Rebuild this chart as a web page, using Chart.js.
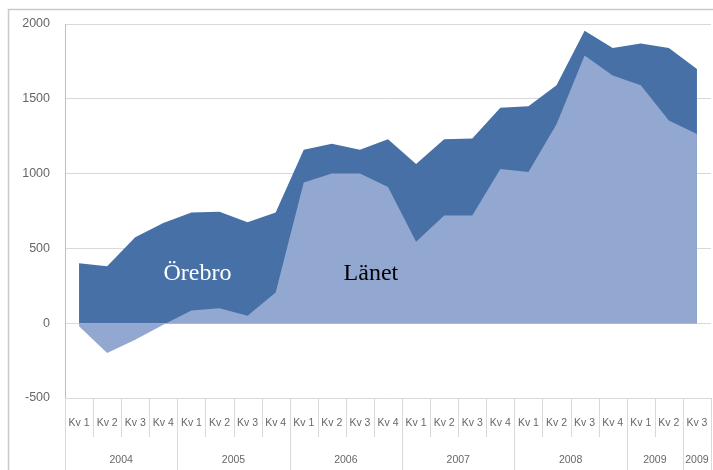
<!DOCTYPE html>
<html>
<head>
<meta charset="utf-8">
<script src="https://cdn.jsdelivr.net/npm/chart.js@4.4.1/dist/chart.umd.min.js"></script>
<style>
  html, body { margin: 0; padding: 0; background: #fff; overflow: hidden; }
  #wrap { width: 713px; height: 470px; }
</style>
</head>
<body>
<div id="wrap"><canvas id="chart" width="713" height="470"></canvas></div>
<script>
// data
const quarters = ['Kv 1', 'Kv 2', 'Kv 3', 'Kv 4', 'Kv 1', 'Kv 2', 'Kv 3', 'Kv 4',
    'Kv 1', 'Kv 2', 'Kv 3', 'Kv 4', 'Kv 1', 'Kv 2', 'Kv 3', 'Kv 4',
    'Kv 1', 'Kv 2', 'Kv 3', 'Kv 4', 'Kv 1', 'Kv 2', 'Kv 3'];
const years = ['2004', '2005', '2006', '2007', '2008', '2009', '2009'];
const yearSpans = [4, 4, 4, 4, 4, 2, 1];

const orebro = [400, 380, 575, 670, 740, 745, 675, 740, 1160, 1200, 1160, 1230,
    1065, 1230, 1235, 1440, 1450, 1590, 1955, 1840, 1870, 1840, 1700];
const lanet = [-20, -200, -110, -10, 85, 100, 50, 205, 940, 1000, 1000, 910,
    545, 720, 720, 1030, 1010, 1330, 1790, 1655, 1590, 1355, 1265];

const yTicks = [-500, 0, 500, 1000, 1500, 2000];

const darkBlue = '#4770a7';
const lightBlue = '#93a8d0';
const lineGray = '#d9d9d9';
const textGray = '#676767';

// frame, two-level category labels and the text labels in the areas
const extras = {
    id: 'extras',
    beforeDraw(c) {
        const ctx = c.ctx;
        ctx.save();
        ctx.strokeStyle = '#c9c9c9';
        ctx.lineWidth = 1.5;
        ctx.beginPath();
        ctx.moveTo(8.5, 470);
        ctx.lineTo(8.5, 9.5);
        ctx.lineTo(713, 9.5);
        ctx.stroke();
        ctx.restore();
    },
    afterDatasetsDraw(c) {
        const ctx = c.ctx;
        const x = c.scales.x;
        const y = c.scales.y;
        ctx.save();
        ctx.textAlign = 'center';
        ctx.textBaseline = 'middle';
        ctx.font = '24px "Liberation Serif", serif';
        ctx.fillStyle = '#ffffff';
        ctx.fillText('Örebro', x.getPixelForValue(4) + 6, y.getPixelForValue(330));
        ctx.fillStyle = '#000000';
        ctx.fillText('Länet', x.getPixelForValue(10) + 11, y.getPixelForValue(330));
        ctx.restore();
    },
    afterDraw(c) {
        const ctx = c.ctx;
        const x = c.scales.x;
        const area = c.chartArea;
        const step = (area.right - area.left) / quarters.length;
        ctx.save();
        ctx.strokeStyle = lineGray;
        ctx.lineWidth = 1;
        // category separators
        for (let i = 0; i <= quarters.length; i++) {
            const px = Math.round(area.left + i * step) + 0.5;
            ctx.beginPath();
            ctx.moveTo(px, area.bottom);
            ctx.lineTo(px, area.bottom + 39);
            ctx.stroke();
        }
        // year separators
        let idx = 0;
        for (let g = 0; g <= years.length; g++) {
            const px = Math.round(area.left + idx * step) + 0.5;
            ctx.beginPath();
            ctx.moveTo(px, area.bottom);
            ctx.lineTo(px, 470);
            ctx.stroke();
            if (g < years.length) idx += yearSpans[g];
        }
        ctx.fillStyle = textGray;
        ctx.textAlign = 'center';
        ctx.textBaseline = 'middle';
        ctx.font = '10.5px "Liberation Sans", sans-serif';
        quarters.forEach((q, i) => {
            ctx.fillText(q, x.getPixelForValue(i), area.bottom + 25);
        });
        idx = 0;
        years.forEach((yr, g) => {
            const mid = (x.getPixelForValue(idx) + x.getPixelForValue(idx + yearSpans[g] - 1)) / 2;
            ctx.fillText(yr, mid, area.bottom + 62);
            idx += yearSpans[g];
        });
        ctx.restore();
    }
};

new Chart(document.querySelector('#chart').getContext('2d'), {
    type: 'line',
    data: {
        labels: quarters,
        datasets: [
            {
                label: 'Örebro',
                data: orebro,
                backgroundColor: darkBlue,
                borderWidth: 0,
                pointRadius: 0,
                tension: 0,
                fill: 'origin',
                order: 2
            },
            {
                label: 'Länet',
                data: lanet,
                backgroundColor: lightBlue,
                borderWidth: 0,
                pointRadius: 0,
                tension: 0,
                fill: 'origin',
                order: 1
            }
        ]
    },
    options: {
        responsive: false,
        animation: false,
        layout: { padding: { top: 24, right: 2, left: 0, bottom: 0 } },
        plugins: { legend: { display: false }, tooltip: { enabled: false } },
        scales: {
            x: {
                type: 'category',
                offset: true,
                grid: { display: false },
                border: { display: false },
                ticks: { display: false },
                afterFit(s) { s.height = 72; }
            },
            y: {
                min: -500,
                max: 2000,
                afterBuildTicks(s) { s.ticks = yTicks.map(v => ({ value: v })); },
                grid: { color: lineGray, drawTicks: false },
                border: { display: true, color: '#bfbfbf' },
                ticks: {
                    color: textGray,
                    padding: 15,
                    font: { family: '"Liberation Sans", sans-serif', size: 12.5 },
                    callback: v => String(v)
                },
                afterFit(s) { s.width = 65; }
            }
        }
    },
    plugins: [extras]
});
</script>
</body>
</html>
